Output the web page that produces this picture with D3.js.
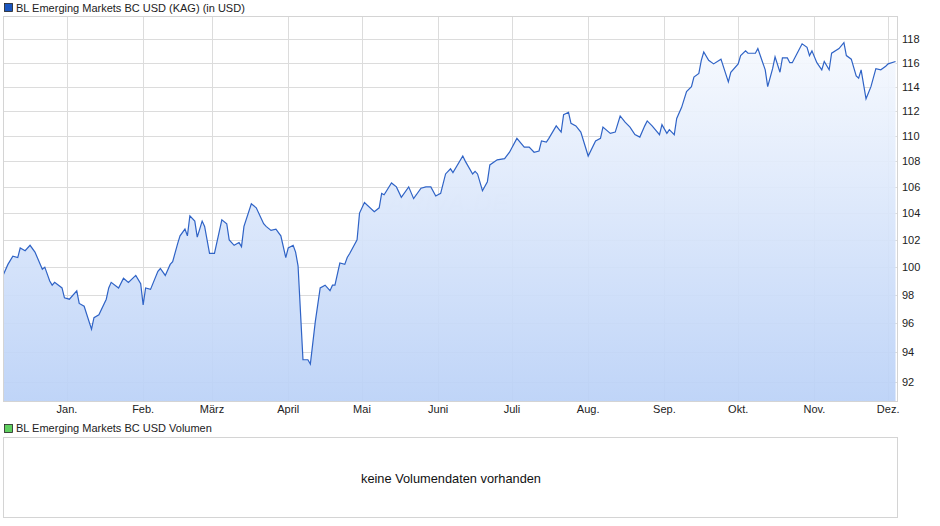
<!DOCTYPE html>
<html><head><meta charset="utf-8">
<script src="https://cdn.jsdelivr.net/npm/d3@7"></script>
<style>body{margin:0;background:#fff;font-family:"Liberation Sans",Arial,sans-serif}</style>
</head><body><svg id="c" width="940" height="526"></svg>
<script>
const dates=["2024-12-06","2024-12-08","2024-12-10","2024-12-12","2024-12-13","2024-12-15","2024-12-17","2024-12-19","2024-12-22","2024-12-23","2024-12-25","2024-12-26","2024-12-27","2024-12-30","2024-12-31","2025-01-02","2025-01-05","2025-01-06","2025-01-08","2025-01-11","2025-01-12","2025-01-14","2025-01-17","2025-01-18","2025-01-19","2025-01-22","2025-01-24","2025-01-26","2025-01-29","2025-01-31",
"2025-02-01","2025-02-02","2025-02-04","2025-02-07","2025-02-08","2025-02-10","2025-02-12","2025-02-13","2025-02-15","2025-02-16","2025-02-18","2025-02-19","2025-02-20","2025-02-22","2025-02-23","2025-02-25","2025-02-26","2025-02-28",
"2025-03-02","2025-03-05","2025-03-07","2025-03-08","2025-03-10","2025-03-12","2025-03-13","2025-03-14","2025-03-17","2025-03-19","2025-03-22","2025-03-23","2025-03-25","2025-03-27","2025-03-29","2025-03-31",
"2025-04-01","2025-04-03","2025-04-04","2025-04-05","2025-04-07","2025-04-09","2025-04-10","2025-04-12","2025-04-14","2025-04-16","2025-04-18","2025-04-19","2025-04-20","2025-04-22","2025-04-24","2025-04-25","2025-04-26","2025-04-29","2025-04-30",
"2025-05-02","2025-05-06","2025-05-08","2025-05-09","2025-05-10","2025-05-13","2025-05-15","2025-05-17","2025-05-20","2025-05-22","2025-05-25","2025-05-27","2025-05-29","2025-05-31",
"2025-06-02","2025-06-04","2025-06-06","2025-06-07","2025-06-11","2025-06-12","2025-06-15","2025-06-16","2025-06-17","2025-06-19","2025-06-21","2025-06-22","2025-06-25","2025-06-28","2025-06-30",
"2025-07-03","2025-07-06","2025-07-08","2025-07-10","2025-07-12","2025-07-13","2025-07-15","2025-07-16","2025-07-19","2025-07-21","2025-07-22","2025-07-24","2025-07-25","2025-07-27","2025-07-29",
"2025-08-01","2025-08-04","2025-08-06","2025-08-07","2025-08-10","2025-08-12","2025-08-14","2025-08-16","2025-08-18","2025-08-20","2025-08-22","2025-08-24","2025-08-25","2025-08-27","2025-08-30","2025-08-31",
"2025-09-02","2025-09-03","2025-09-05","2025-09-06","2025-09-08","2025-09-10","2025-09-12","2025-09-13","2025-09-15","2025-09-16","2025-09-17","2025-09-19","2025-09-21","2025-09-24","2025-09-27","2025-09-28",
"2025-10-01","2025-10-02","2025-10-04","2025-10-05","2025-10-08","2025-10-09","2025-10-12","2025-10-13","2025-10-15","2025-10-16","2025-10-18","2025-10-19","2025-10-21","2025-10-22","2025-10-23","2025-10-25","2025-10-27","2025-10-29","2025-10-30","2025-10-31",
"2025-11-02","2025-11-04","2025-11-05","2025-11-07","2025-11-08","2025-11-11","2025-11-13","2025-11-14","2025-11-16","2025-11-18","2025-11-19","2025-11-20","2025-11-22","2025-11-24","2025-11-26","2025-11-28","2025-11-30","2025-12-01","2025-12-04"];
const values=[99.4,100.2,100.8,100.7,101.4,101.2,101.6,101.1,99.85,100.0,99.0,98.7,98.9,98.5,97.8,97.7,98.3,97.4,97.2,95.6,96.4,96.6,97.7,98.5,98.9,98.5,99.2,98.9,99.4,98.8,
97.3,98.5,98.4,99.7,99.9,99.4,100.2,100.4,101.7,102.3,102.8,102.3,103.8,103.4,102.2,103.4,103.0,101.0,
101.0,103.5,103.2,102.0,101.6,101.8,101.5,103.0,104.7,104.4,103.2,103.0,102.7,102.8,102.3,100.7,
101.4,101.6,101.1,100.1,93.5,93.5,93.2,96.1,98.5,98.7,98.3,98.7,98.7,100.3,100.2,100.7,101.0,102.0,104.0,
104.8,104.1,104.4,105.5,105.4,106.3,106.0,105.2,106.0,105.1,105.9,106.0,106.0,105.3,
105.5,107.0,107.4,107.1,108.4,108.0,107.0,107.2,107.0,105.7,106.4,107.7,108.1,108.2,108.7,
109.8,109.1,109.1,108.7,108.8,109.6,109.5,109.8,110.8,110.3,111.7,111.9,111.0,110.8,110.3,
108.4,109.6,109.8,110.7,110.2,110.3,111.6,111.1,110.7,110.1,109.9,110.8,111.2,110.8,110.1,110.9,
110.2,110.5,110.1,111.4,112.3,113.6,114.0,114.8,115.1,116.2,116.9,116.2,115.9,116.3,114.4,115.2,
115.9,116.6,117.0,116.8,116.8,117.2,115.4,114.0,115.5,116.5,115.2,116.4,116.4,116.0,116.0,116.8,117.6,117.3,116.6,117.0,
116.0,115.4,116.1,115.4,116.8,117.2,117.7,116.6,116.3,114.9,114.7,115.4,113.0,114.0,115.5,115.4,115.7,115.9,116.1];
const yTicks=[92,94,96,98,100,102,104,106,108,110,112,114,116,118];
const months=["Jan.","Feb.","März","April","Mai","Juni","Juli","Aug.","Sep.","Okt.","Nov.","Dez."];

const svg=d3.select("#c");
const L=3,R=898,T=16,B=401;
const parse=d3.timeParse("%Y-%m-%d");
const data=dates.map((d,i)=>({d:parse(d),v:values[i]}));
const x=d3.scaleTime().domain([parse("2024-12-06"),parse("2025-12-05")]).range([L,R]);
const y=d3.scaleLog().domain([90.74,120]).range([B,T]);

const defs=svg.append("defs");
const g=defs.append("linearGradient").attr("id","gr").attr("x1",0).attr("y1",0).attr("x2",0).attr("y2",1);
g.append("stop").attr("offset","0%").attr("stop-color","#f6f9fe");
g.append("stop").attr("offset","100%").attr("stop-color","#bad1f7");
defs.append("clipPath").attr("id","cp").append("rect").attr("x",L).attr("y",T).attr("width",R-L).attr("height",B-T);

svg.append("rect").attr("x",4.5).attr("y",3.5).attr("width",8).attr("height",8).attr("fill","#1a56c0").attr("stroke","#222").attr("stroke-width",0.8);
svg.append("text").attr("x",16).attr("y",11.5).attr("font-size",11).attr("fill","#222").text("BL Emerging Markets BC USD (KAG) (in USD)");

const monthStarts=d3.range(12).map(m=>new Date(2025,m,1));
svg.append("g").selectAll("line").data(yTicks).join("line")
 .attr("x1",L).attr("x2",R).attr("y1",d=>Math.round(y(d))+0.5).attr("y2",d=>Math.round(y(d))+0.5).attr("stroke","#dcdcdc");
svg.append("g").selectAll("line").data(monthStarts).join("line")
 .attr("x1",d=>Math.round(x(d))+0.5).attr("x2",d=>Math.round(x(d))+0.5).attr("y1",T).attr("y2",B).attr("stroke","#dcdcdc");

svg.append("text").attr("x",448).attr("y",212).attr("text-anchor","middle").attr("font-size",26).attr("font-style","italic").attr("font-weight","bold").attr("fill","#000").attr("fill-opacity",0.035).text("ARIVA.DE");

const cg=svg.append("g").attr("clip-path","url(#cp)");
cg.append("path").datum(data).attr("fill","url(#gr)").attr("fill-opacity",0.92)
 .attr("d",d3.area().x(d=>x(d.d)).y0(B).y1(d=>y(d.v)));
cg.append("path").datum(data).attr("fill","none").attr("stroke","#2f63c6").attr("stroke-width",1.2)
 .attr("d",d3.line().x(d=>x(d.d)).y(d=>y(d.v)));

svg.append("rect").attr("x",L+0.5).attr("y",T+0.5).attr("width",R-L-1).attr("height",B-T).attr("fill","none").attr("stroke","#d4d4d4");

svg.append("g").selectAll("text").data(yTicks).join("text")
 .attr("x",902).attr("y",d=>y(d)+4).attr("font-size",11).attr("fill","#222").text(d=>d);
svg.append("g").selectAll("text").data(monthStarts).join("text")
 .attr("x",d=>x(d)).attr("y",413).attr("text-anchor","middle").attr("font-size",11).attr("fill","#222").text((d,i)=>months[i]);

svg.append("rect").attr("x",4.5).attr("y",424.5).attr("width",8).attr("height",8).attr("fill","#5fcf5f").attr("stroke","#222").attr("stroke-width",0.8);
svg.append("text").attr("x",16).attr("y",432).attr("font-size",11).attr("fill","#222").text("BL Emerging Markets BC USD Volumen");
svg.append("rect").attr("x",L+0.5).attr("y",437.5).attr("width",R-L-1).attr("height",80).attr("fill","none").attr("stroke","#d4d4d4");
svg.append("text").attr("x",451).attr("y",482.5).attr("text-anchor","middle").attr("font-size",12.8).attr("fill","#111").text("keine Volumendaten vorhanden");
</script></body></html>
